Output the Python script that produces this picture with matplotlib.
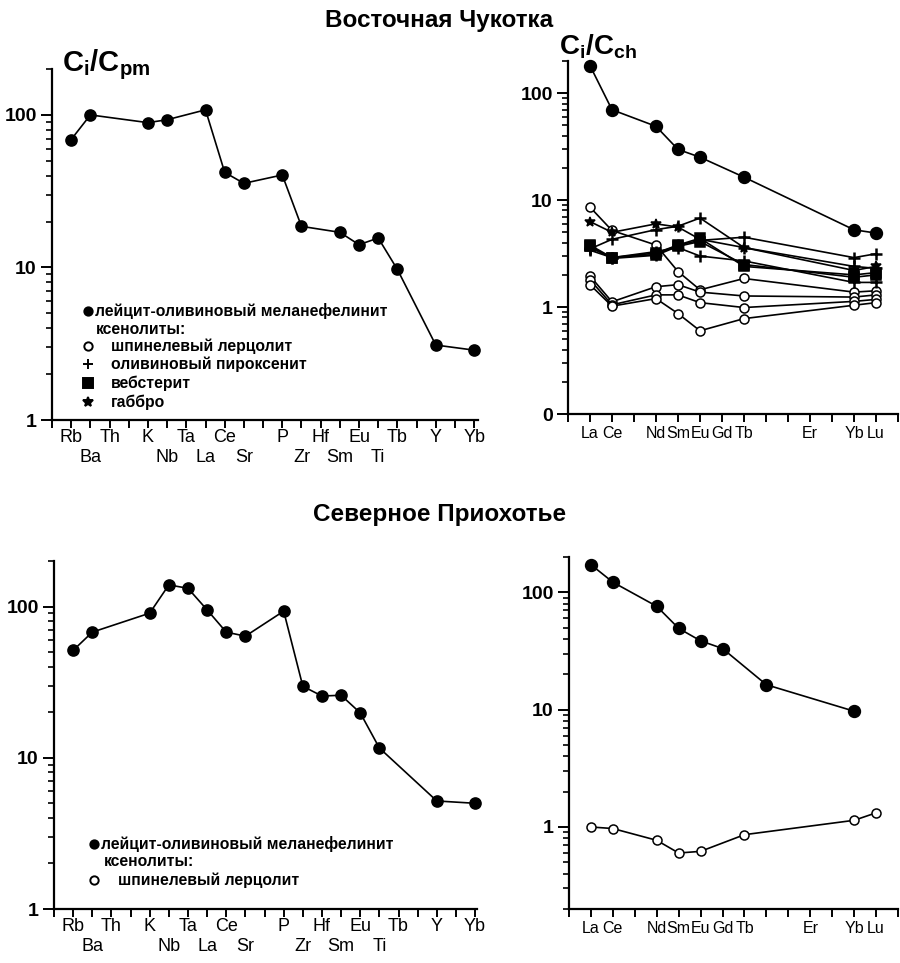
import matplotlib.pyplot as plt
from matplotlib.ticker import FixedLocator, LogLocator, NullFormatter

plt.rcParams['font.family'] = ['Liberation Sans', 'DejaVu Sans']
plt.rcParams['mathtext.fontset'] = 'custom'
plt.rcParams['mathtext.rm'] = 'Liberation Sans'
plt.rcParams['mathtext.bf'] = 'Liberation Sans:bold'

# element order on the x axes ("" = slot without label)
spider_order = ["Rb", "Ba", "Th", "", "K", "Nb", "Ta", "La", "Ce", "Sr", "", "P",
                "Zr", "Hf", "Sm", "Eu", "Ti", "Tb", "", "Y", "", "Yb"]
spider_top_row = ["Rb", "Th", "K", "Ta", "Ce", "P", "Hf", "Eu", "Tb", "Y", "Yb"]
spider_low_row = ["Ba", "Nb", "La", "Sr", "Zr", "Sm", "Ti"]
ree_order = ["La", "Ce", "Pr", "Nd", "Sm", "Eu", "Gd", "Tb", "Dy", "Ho", "Er", "Tm", "Yb", "Lu"]
ree_labels = ["La", "Ce", "Nd", "Sm", "Eu", "Gd", "Tb", "Er", "Yb", "Lu"]

# Восточная Чукотка, spider diagram
chuk_sp_el = ["Rb", "Ba", "K", "Nb", "La", "Ce", "Sr", "P", "Zr", "Sm", "Eu", "Ti", "Tb", "Y", "Yb"]
chuk_sp_val = [69, 100, 89, 93, 108, 42, 35.6, 40.4, 18.6, 17.0, 14.1, 15.6, 9.7, 3.1, 2.87]

# Восточная Чукотка, REE
chuk_ree_el = ["La", "Ce", "Nd", "Sm", "Eu", "Tb", "Yb", "Lu"]
chuk_mel = [181, 70, 49, 29.8, 25.2, 16.4, 5.28, 4.92]
chuk_lherz = [
    [8.6, 5.2, 3.8, 2.15, 1.45, 1.85, 1.38, 1.42],
    [1.95, 1.12, 1.55, 1.62, 1.38, 1.27, 1.24, 1.3],
    [1.8, 1.05, 1.3, 1.3, 1.1, 0.99, 1.13, 1.18],
    [1.62, 1.02, 1.2, 0.87, 0.6, 0.78, 1.04, 1.1],
]
chuk_pyrox = [
    [3.5, 4.3, 5.3, 5.7, 6.8, 3.6, 2.4, 2.3],
    [3.4, 2.9, 3.3, 3.6, 3.0, 2.7, 1.7, 1.7],
    [3.6, 2.9, 3.1, 3.8, 4.2, 4.5, 2.9, 3.15],
]
chuk_webst = [
    [3.8, 2.9, 3.2, 3.8, 4.4, 2.4, 2.0, 2.1],
    [3.7, 2.85, 3.05, 3.7, 4.1, 2.5, 1.9, 2.0],
]
chuk_gabbro = [[6.3, 5.0, 6.0, 5.6, 4.3, 3.6, 2.2, 2.4]]

# Северное Приохотье, spider diagram
pri_sp_el = ["Rb", "Ba", "K", "Nb", "Ta", "La", "Ce", "Sr", "P", "Zr", "Hf", "Sm", "Eu", "Ti", "Y", "Yb"]
pri_sp_val = [51.3, 67.7, 90.4, 139, 132, 95, 67.7, 63.7, 93.2, 29.7, 25.6, 25.9, 19.8, 11.6, 5.18, 5.0]

# Северное Приохотье, REE
pri_mel_el = ["La", "Ce", "Nd", "Sm", "Eu", "Gd", "Dy", "Yb"]
pri_mel = [172, 122, 76, 49.3, 38.6, 33.2, 16.3, 9.7]
pri_lherz_el = ["La", "Ce", "Nd", "Sm", "Eu", "Tb", "Yb", "Lu"]
pri_lherz = [1.0, 0.97, 0.77, 0.60, 0.62, 0.86, 1.14, 1.32]

W, H = 900, 963
fig = plt.figure(figsize=(W / 100, H / 100), dpi=100)


def px_axes(x0, y0, x1, y1):
    return fig.add_axes([x0 / W, 1 - y1 / H, (x1 - x0) / W, (y1 - y0) / H])


def style(ax, n, xmax, ymin, yticks, ylabels):
    ax.set_yscale('log')
    ax.set_xlim(-1, xmax)
    ax.set_ylim(ymin, 200)
    for s in ['top', 'right']:
        ax.spines[s].set_visible(False)
    for s in ['left', 'bottom']:
        ax.spines[s].set_linewidth(1.6)
    ax.xaxis.set_major_locator(FixedLocator(range(-1, n + 1)))
    ax.set_xticklabels([])
    ax.yaxis.set_major_locator(FixedLocator(yticks))
    ax.set_yticklabels(ylabels, fontsize=14, fontweight='bold')
    ax.yaxis.set_minor_locator(LogLocator(subs=range(2, 10)))
    ax.yaxis.set_minor_formatter(NullFormatter())
    ax.tick_params(axis='x', direction='out', length=6, width=1.4)
    ax.tick_params(axis='y', which='major', direction='out', length=8, width=1.4, pad=3)
    ax.tick_params(axis='y', which='minor', direction='out', length=4, width=1.2)


def xlabel_at(ax, lbl, x, dy, fs=13):
    ax.annotate(lbl, (x, 0), xycoords=ax.get_xaxis_transform(), xytext=(0, -dy),
                textcoords='offset pixels', ha='center', va='center', fontsize=fs)


def spider_labels(ax):
    for e in spider_top_row:
        xlabel_at(ax, e, spider_order.index(e), 17)
    for e in spider_low_row:
        xlabel_at(ax, e, spider_order.index(e), 37)


def ree_xlabels(ax):
    for e in ree_labels:
        xlabel_at(ax, e, ree_order.index(e), 19, fs=11.5)


def line(ax, order, els, vals, marker, ms, mfc, mew=1.1):
    xs = [order.index(e) for e in els]
    ax.plot(xs, vals, color='black', lw=1.2, marker=marker, ms=ms, mfc=mfc,
            mec='black', mew=mew, clip_on=False, zorder=3)


def legend_text(ax, rows):
    for (sym, ms, mfc, sx, tx, y, txt) in rows:
        xa, ya = ax.transAxes.inverted().transform(fig.transFigure.transform((sx / W, 1 - y / H)))
        if sym:
            ax.plot([xa], [ya], marker=sym, ms=ms, mfc=mfc, mec='black', mew=1.4,
                    transform=ax.transAxes, clip_on=False, ls='none')
        xt, _ = ax.transAxes.inverted().transform(fig.transFigure.transform((tx / W, 0)))
        ax.text(xt, ya, txt, transform=ax.transAxes, fontsize=11.3, fontweight='bold',
                ha='left', va='center')


mel_label = "лейцит-оливиновый меланефелинит"

# top-left
ax1 = px_axes(52, 69, 478, 420)
style(ax1, 21, 21.2, 1, [1, 10, 100], ['1', '10', '100'])
spider_labels(ax1)
line(ax1, spider_order, chuk_sp_el, chuk_sp_val, 'o', 8, 'black')
legend_text(ax1, [
    ('o', 6, 'black', 88, 95, 311, mel_label),
    (None, 0, None, 0, 96, 329, "ксенолиты:"),
    ('o', 6, 'white', 88, 111, 346, "шпинелевый лерцолит"),
    ('+', 7, 'black', 88, 111, 364, "оливиновый пироксенит"),
    ('s', 6.5, 'black', 88, 111, 383, "вебстерит"),
    ('*', 7, 'black', 88, 111, 402, "габбро"),
])
fig.text(62 / W, 1 - 65 / H, r'$\mathbf{C_i/C_{pm}}$', fontsize=21, ha='left', va='center')

# top-right
ax2 = px_axes(568, 61, 898, 414)
style(ax2, 14, 14, 0.1, [0.1, 1, 10, 100], ['0', '1', '10', '100'])
ree_xlabels(ax2)
for v in chuk_lherz:
    line(ax2, ree_order, chuk_ree_el, v, 'o', 6.5, 'white')
for v in chuk_webst:
    line(ax2, ree_order, chuk_ree_el, v, 's', 6.5, 'black')
for v in chuk_pyrox:
    line(ax2, ree_order, chuk_ree_el, v, '+', 8, 'black', mew=1.8)
for v in chuk_gabbro:
    line(ax2, ree_order, chuk_ree_el, v, '*', 7, 'black')
line(ax2, ree_order, chuk_ree_el, chuk_mel, 'o', 8.5, 'black')
fig.text(559 / W, 1 - 47 / H, r'$\mathbf{C_i/C_{ch}}$', fontsize=20, ha='left', va='center')

# bottom-left
ax3 = px_axes(54, 561, 477, 909)
style(ax3, 21, 21.1, 1, [1, 10, 100], ['1', '10', '100'])
spider_labels(ax3)
line(ax3, spider_order, pri_sp_el, pri_sp_val, 'o', 8, 'black')
legend_text(ax3, [
    ('o', 6, 'black', 94, 101, 844, mel_label),
    (None, 0, None, 0, 104, 862, "ксенолиты:"),
    ('o', 6, 'white', 94, 118, 880, "шпинелевый лерцолит"),
])

# bottom-right
ax4 = px_axes(569, 557, 898, 909)
style(ax4, 14, 14, 0.2, [1, 10, 100], ['1', '10', '100'])
ree_xlabels(ax4)
line(ax4, ree_order, pri_lherz_el, pri_lherz, 'o', 6.5, 'white')
line(ax4, ree_order, pri_mel_el, pri_mel, 'o', 8.5, 'black')

fig.text(439 / W, 1 - 21 / H, "Восточная Чукотка", fontsize=17.5, fontweight='bold',
         ha='center', va='center')
fig.text(440 / W, 1 - 514 / H, "Северное Приохотье", fontsize=17.5, fontweight='bold',
         ha='center', va='center')

fig.savefig('out.png', dpi=100)
